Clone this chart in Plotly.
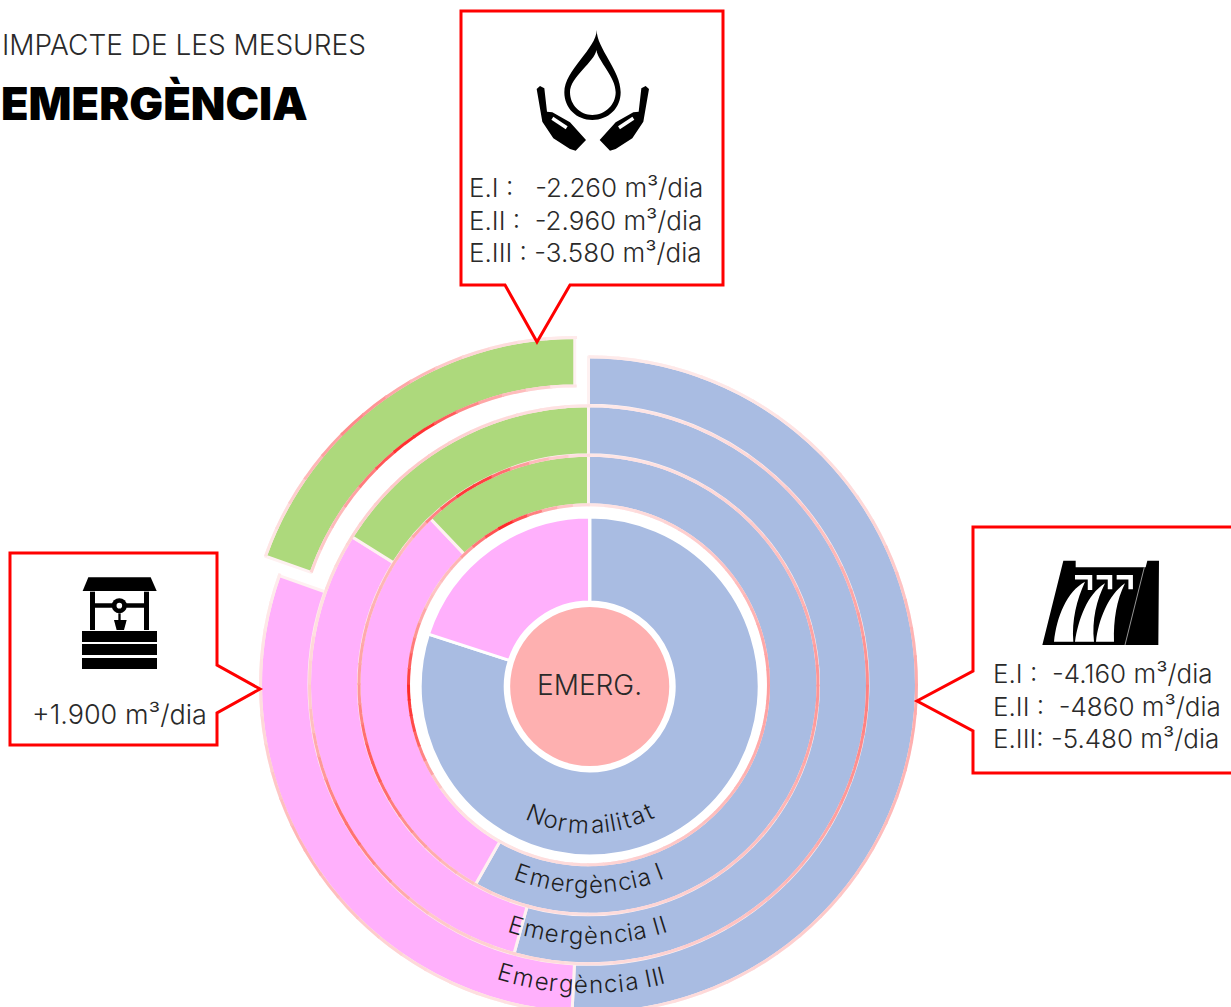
"""Water emergency measures: nested rings with three call-outs."""
import math

import plotly.graph_objects as go

W, H = 1231, 1045
CX, CY = 589.7, 686.5   # centre disc and first ring
RX, RY = 588.5, 684.8   # the three outer rings sit a touch up and left

FONT = "Inter"
INK = "#2A2A2A"

# share of supply per scenario, clockwise from the top
ring_names = ["Normailitat", "Emergència I", "Emergència II", "Emergència III"]
blue_values = [80.0, 58.2, 54.3, 50.8]
pink_values = [20.0, 29.7, 29.6, 29.6]
green_values = [0.0, 12.1, 16.1, 19.6]
center_label = "EMERG."

colors = ["#A9BCE2", "#FFB0FC", "#ADD97C"]
edge = "#FEF1F1"

ring_outer = [169.5, 229.5, 279.0, 328.0]
ring_inner = [84.5, 180.0, 230.0, 279.5]
pull_last = 0.0725

title_top = "IMPACTE DE LES MESURES"
title_main = "EMERGÈNCIA"
top_lines = ["E.I :\u00a0\u00a0\u00a0-2.260 m³/dia",
             "E.II :\u00a0\u00a0-2.960 m³/dia",
             "E.III : -3.580 m³/dia"]
right_lines = ["E.I :\u00a0\u00a0-4.160 m³/dia",
               "E.II :\u00a0\u00a0-4860 m³/dia",
               "E.III: -5.480 m³/dia"]
left_line = "+1.900 m³/dia"


def px(x):
    return x / W


def py(y):
    return 1 - y / H


def domain(r, pull=0.0, cx=CX, cy=CY):
    half = r * (1 + pull)
    return dict(x=[px(cx - half), px(cx + half)], y=[py(cy + half), py(cy - half)])


def path(points, close=True):
    head = "M " + " L ".join(f"{px(x):.5f},{py(y):.5f}" for x, y in points)
    return head + (" Z" if close else "")


def curve(cmds):
    # cmds use page pixels: ("M", x, y), ("C", x1, y1, x2, y2, x, y), ("Z",)
    out = []
    for c in cmds:
        nums = c[1:]
        pairs = [f"{px(nums[i]):.5f},{py(nums[i + 1]):.5f}" for i in range(0, len(nums), 2)]
        out.append(c[0] + " " + " ".join(pairs))
    return " ".join(out)


fig = go.Figure()

fig.add_pie(values=[1], labels=[center_label], domain=domain(79.5), hole=0, sort=False,
            marker=dict(colors=["#FEB0B0"], line=dict(color="white", width=0)),
            textinfo="none", hoverinfo="label")

for i, name in enumerate(ring_names):
    pull = pull_last if i == 3 else 0.0
    cx, cy = (CX, CY) if i == 0 else (RX, RY)
    fig.add_pie(
        values=[blue_values[i], pink_values[i], green_values[i]],
        labels=["Blue", "Pink", "Green"],
        name=name, domain=domain(ring_outer[i], pull, cx, cy), hole=ring_inner[i] / ring_outer[i],
        pull=[0, 0, pull], sort=False, direction="clockwise", rotation=0,
        marker=dict(colors=colors, line=dict(color="white" if i == 0 else edge, width=3)),
        textinfo="none", hoverinfo="name+percent",
    )

shapes = []


def solid(d, color="black"):
    shapes.append(dict(type="path", xref="paper", yref="paper", path=d, fillcolor=color,
                       line=dict(width=0), layer="above"))


def stroke(d, color="black", width=3.0):
    shapes.append(dict(type="path", xref="paper", yref="paper", path=d,
                       line=dict(color=color, width=width), layer="above"))


def tint_at(profile, a):
    for (a0, t0), (a1, t1) in zip(profile, profile[1:]):
        if a0 <= a <= a1:
            return t0 + (t1 - t0) * (a - a0) / (a1 - a0)
    return profile[-1][1]


def tinted_arc(r, profile, a0, a1, ox=0.0, oy=0.0, step=5):
    # the source's ring edges change from pale pink to red along the arc
    n = max(1, round((a1 - a0) / step))
    for k in range(n):
        s0 = a0 + (a1 - a0) * k / n
        s1 = a0 + (a1 - a0) * (k + 1) / n + 0.4
        t = tint_at(profile, (s0 + s1) / 2)
        col = "rgb(" + ",".join(str(round(p + (h - p) * t)) for p, h in zip((254, 241, 241), (255, 30, 30))) + ")"
        pts = [(RX + ox + r * math.sin(math.radians(s)), RY + oy - r * math.cos(math.radians(s)))
               for s in (s0, (s0 + s1) / 2, s1)]
        stroke(path(pts, close=False), col, 3)


# edge tint: (angle clockwise from top, strength 0-1)
tint_inner = [(0, .05), (45, .2), (90, .4), (135, .25), (180, .12), (215, .05), (235, .12), (255, .75), (268, .95),
              (285, .5), (300, .2), (315, .3), (333, .95), (348, .3), (360, .05)]
tint_mid = [(0, .05), (30, .1), (60, .25), (90, .45), (130, .25), (180, .08), (205, .15), (225, .35), (250, .75), (270, .4),
            (290, .3), (310, .25), (330, .95), (345, .3), (360, .05)]
tint_outer = [(0, .03), (30, .1), (60, .25), (95, .55), (130, .3), (180, .08), (215, .2), (240, .65), (265, .2),
              (285, .07), (320, .2), (360, .05)]
tint_rim = [(0, .03), (30, .05), (60, .12), (90, .35), (130, .2), (180, .05), (210, .1), (240, .3), (265, .1), (290, .02)]
tint_green_in = [(289, .1), (305, .3), (325, 1.0), (340, .4), (358, .05)]
tint_green_out = [(289, .03), (300, .12), (318, .5), (340, .15), (358, .03)]

green_from = 360 - green_values[3] * 3.6
tinted_arc(ring_inner[1], tint_inner, 0, 360)
tinted_arc(ring_outer[1], tint_mid, 0, 360)
tinted_arc(ring_outer[2], tint_outer, 0, 360)
tinted_arc(ring_outer[3], tint_rim, 0, green_from)

# the pulled green slice carries its own edges
pull_px = ring_outer[3] * pull_last
mid_ang = math.radians(360 - green_values[3] * 1.8)
ox, oy = pull_px * math.sin(mid_ang), -pull_px * math.cos(mid_ang)
tinted_arc(ring_inner[3], tint_green_in, green_from, 360, ox, oy)
tinted_arc(ring_outer[3], tint_green_out, green_from, 360, ox, oy)

# call-out boxes
stroke(path([(461, 11), (723, 11), (723, 285), (570, 285), (537, 342), (505, 285), (461, 285)]), "#FF0000")
stroke(path([(1240, 527), (973, 527), (973, 671), (917, 701), (973, 731), (973, 773), (1240, 773)], close=False), "#FF0000")
stroke(path([(10, 553), (217, 553), (217, 665), (260, 689), (217, 713), (217, 745), (10, 745)]), "#FF0000")


# drop + hands icon, drawn in the crop's 3x grid
def ic1(x, y):
    return 455 + x / 3, 5 + y / 3


def drop(scale_pts):
    return curve([("M",) + ic1(*scale_pts[0])] + [("C",) + ic1(*a) + ic1(*b) + ic1(*c) for a, b, c in scale_pts[1]] + [("Z",)])


solid(drop(((425, 75), [((425, 130), (328, 195), (328, 262)),
                        ((328, 310), (365, 345), (412, 345)),
                        ((460, 345), (497, 310), (497, 262)),
                        ((497, 195), (425, 130), (425, 75))])))
solid(drop(((424, 135), [((420, 170), (345, 215), (345, 262)),
                         ((345, 300), (375, 330), (412, 330)),
                         ((450, 330), (482, 300), (482, 262)),
                         ((482, 215), (430, 170), (424, 135))])), "white")
for mirror in (False, True):
    def mp(x, y):
        return ic1(827 - x, y) if mirror else ic1(x, y)
    solid(path([mp(245, 252), mp(255, 243), mp(268, 250), mp(276, 320), mp(292, 322), mp(345, 352),
                mp(393, 405), mp(362, 437), mp(345, 432), mp(295, 400), mp(262, 350)]))
    stroke(path([mp(292, 340), mp(335, 368)], close=False), "white", 3.5)


# dam icon
def ic2(x, y):
    return 910 + x / 3, 520 + y / 3


solid(path([ic2(397, 375), ic2(460, 122), ic2(497, 122), ic2(497, 142), ic2(707, 142),
            ic2(712, 122), ic2(747, 122), ic2(745, 375)]))
for pts in ([(432, 365), (440, 290), (470, 215), (525, 185), (500, 240), (485, 300), (490, 365)],
            [(495, 365), (505, 300), (530, 225), (585, 190), (560, 240), (545, 300), (552, 365)],
            [(558, 365), (565, 300), (595, 225), (645, 190), (620, 240), (610, 300), (612, 365)]):
    p = [ic2(*q) for q in pts]
    solid(curve([("M",) + p[0], ("C",) + p[1] + p[2] + p[3], ("C",) + p[4] + p[5] + p[6], ("Z",)]), "white")
for pts in ([(495, 172), (540, 172), (540, 210)], [(560, 172), (600, 172), (600, 208)], [(620, 172), (662, 172), (662, 208)]):
    stroke(path([ic2(*q) for q in pts], close=False), "white", 4.5)
stroke(path([ic2(703, 142), ic2(645, 375)], close=False), "#BBBBBB", 0.8)


# well icon
def ic3(x, y):
    return x / 3, 545 + y / 3


def rect3(x0, y0, x1, y1, color="black"):
    solid(path([ic3(x0, y0), ic3(x1, y0), ic3(x1, y1), ic3(x0, y1)]), color)


solid(path([ic3(248, 138), ic3(265, 97), ic3(452, 97), ic3(470, 138)]))
rect3(270, 140, 285, 255)
rect3(432, 140, 447, 255)
rect3(285, 175, 432, 188)
for y0, y1 in ((258, 291), (297, 330), (339, 372)):
    rect3(246, y0, 471, y1)
rect3(355, 205, 362, 225)
solid(path([ic3(342, 225), ic3(380, 225), ic3(372, 255), ic3(350, 255)]))
wx, wy = ic3(358, 182)
for rad, color in ((7.5, "black"), (2.8, "white")):
    shapes.append(dict(type="circle", xref="paper", yref="paper", x0=px(wx - rad), x1=px(wx + rad),
                       y0=py(wy + rad), y1=py(wy - rad), fillcolor=color, line=dict(width=0), layer="above"))

annotations = []


def label(text, x, y, size, anchor="left", weight=300, angle=0, color=INK):
    annotations.append(dict(text=text, x=px(x), y=py(y), xref="paper", yref="paper", showarrow=False,
                            xanchor=anchor, yanchor="middle", textangle=angle, align="left",
                            font=dict(family=FONT, size=size, color=color, weight=weight)))


label(title_top, 0, 45, 28)
label(title_main, -1, 103, 45, weight=900, color="black")
for text, y in zip(top_lines, (188, 220, 253)):
    label(text, 467, y, 26)
for text, y in zip(right_lines, (673, 706, 738)):
    label(text, 991, y, 26)
label(left_line, 209, 714, 27, anchor="right")
label(center_label, 589, 685, 28, anchor="center")

# ring names follow the arcs, one glyph at a time
char_w = {"N": .74, "o": .6, "r": .38, "m": .93, "a": .57, "i": .25, "l": .25, "t": .37, "E": .62,
          "e": .58, "g": .62, "è": .58, "n": .62, "c": .56, " ": .28, "I": .27}
text_radius = [140, 200, 251, 300]
text_shift = [0.6, 0.1, -0.3, -1.5]
text_scale = [1.02, 1.0, 1.02, 1.04]
for name, rad, shift, sc in zip(ring_names, text_radius, text_shift, text_scale):
    size = 24
    total = sum(char_w[c] for c in name) * size * sc
    run = -total / 2
    for c in name:
        adv = char_w[c] * size * sc
        phi = (run + adv / 2) / rad + math.radians(shift)
        run += adv
        if c != " ":
            label(c, RX + rad * math.sin(phi), RY + rad * math.cos(phi), size, anchor="center",
                  angle=-math.degrees(phi), color="#1E1E1E")

fig.update_layout(width=W, height=H, margin=dict(l=0, r=0, t=0, b=0), showlegend=False,
                  paper_bgcolor="white", plot_bgcolor="white", shapes=shapes, annotations=annotations)

fig.write_html("out.html", config={"displayModeBar": False}, post_script="document.body.style.margin='0';")
